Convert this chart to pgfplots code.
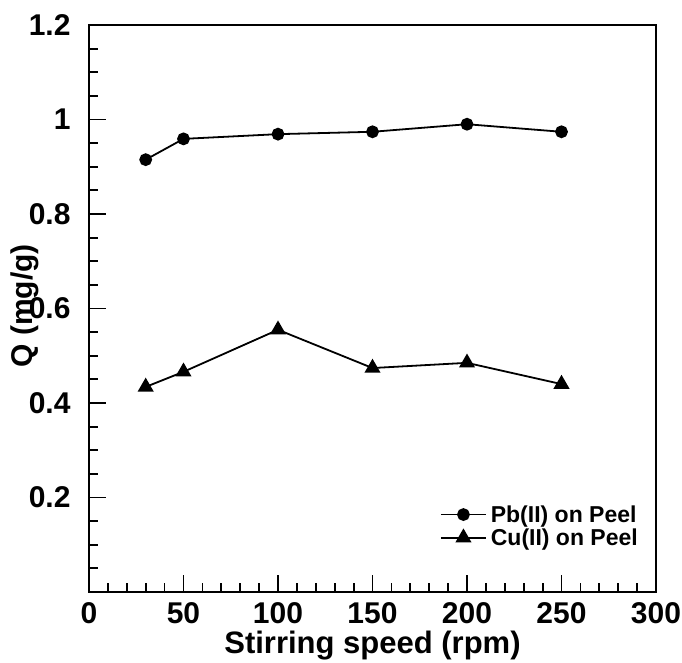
\documentclass[border=0pt]{standalone}
\usepackage{fontspec}
\setmainfont{Liberation Sans}
\usepackage{pgfplots}
\pgfplotsset{compat=1.18}
\begin{document}
\begin{tikzpicture}
\useasboundingbox (-89pt,-70pt) rectangle (593pt,592pt);
\begin{axis}[
  scale only axis, width=567pt, height=567pt,
  xmin=0, xmax=300, ymin=0, ymax=1.2,
  xtick={0,50,...,300},
  ytick={0.2,0.4,0.6,0.8,1,1.2},
  minor xtick={10,20,...,290},
  minor ytick={0.05,0.1,0.15,0.25,0.3,0.35,0.45,0.5,0.55,0.65,0.7,0.75,0.85,0.9,0.95,1.05,1.1,1.15},
  xtick pos=bottom, ytick pos=left,
  tick align=inside,
  major tick length=17pt, minor tick length=9pt,
  every tick/.style={black, line width=1.8pt},
  axis line style={line width=2.5pt},
  /pgf/number format/assume math mode=true,
  ticklabel style={font=\fontsize{30}{32}\selectfont\bfseries},
  y tick label style={anchor=east, xshift=-15pt},
  x tick label style={anchor=north, yshift=-7pt},
  xlabel={Stirring speed (rpm)},
  ylabel={Q (mg/g)},
  xlabel style={font=\fontsize{31}{33}\selectfont\bfseries, at={(axis description cs:0.5,-0.094)}, anchor=center},
  ylabel style={font=\fontsize{30}{32}\selectfont\bfseries, at={(axis description cs:-0.114,0.505)}, anchor=center},
  legend style={at={(axis description cs:1,0)}, anchor=south east, xshift=-14pt, yshift=44pt,
    draw=none, fill=none, font=\fontsize{23}{24}\selectfont\bfseries,
    row sep=3pt, inner sep=0pt, nodes={inner xsep=4pt, inner ysep=1pt}},
  legend cell align=left,
  legend image code/.code={\draw[#1, line width=1.8pt] (0pt,0pt) -- (45pt,0pt); \draw[#1, only marks] plot coordinates {(22.5pt,0pt)};},
]
\addplot[black, line width=1.8pt, mark=*, mark size=5.5pt] coordinates {
(30,0.915) (50,0.959) (100,0.969) (150,0.974) (200,0.990) (250,0.974)};
\addlegendentry{Pb(II) on Peel}
\addplot[black, line width=1.8pt, mark=triangle*, mark size=7.5pt] coordinates {
(30,0.434) (50,0.466) (100,0.555) (150,0.474) (200,0.485) (250,0.440)};
\addlegendentry{Cu(II) on Peel}
\end{axis}
\end{tikzpicture}
\end{document}
